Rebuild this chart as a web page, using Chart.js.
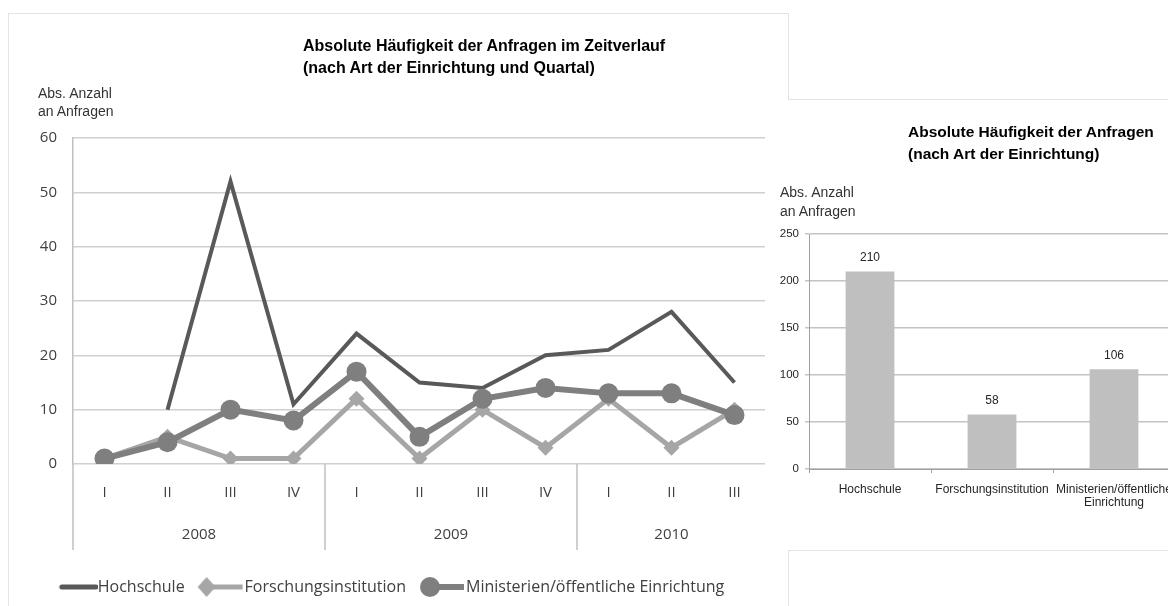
<!DOCTYPE html>
<html lang="de">
<head>
<meta charset="utf-8">
<title>Absolute Häufigkeit der Anfragen</title>
<script src="https://cdn.jsdelivr.net/npm/chart.js@4.4.1/dist/chart.umd.min.js"></script>
<style>
  html, body { margin: 0; padding: 0; background: #fff; }
  body { position: relative; width: 1168px; height: 606px; overflow: hidden; }
  .abs { position: absolute; }
  #rahmen1 { left: 8px; top: 13px; width: 781px; height: 620px; border: 1px solid #e3e3e3; box-sizing: border-box; }
  #panel { left: 765px; top: 100px; width: 403px; height: 450px; background: #fff; }
  #rahmen2 { left: 789px; top: 99px; width: 400px; height: 452px; border-top: 1px solid #e3e3e3; border-bottom: 1px solid #e3e3e3; box-sizing: border-box; }
  .titel { font-family: "Liberation Sans", Arial, sans-serif; font-weight: bold; color: #000; white-space: nowrap; }
  .achse { font-family: "Liberation Sans", Arial, sans-serif; font-size: 14px; line-height: 18px; color: #333; white-space: nowrap; }
</style>
</head>
<body>
<div id="rahmen1" class="abs"></div>
<canvas id="verlauf" class="abs" width="780" height="593" style="left:8px;top:13px"></canvas>
<div id="panel" class="abs"></div>
<div id="rahmen2" class="abs"></div>
<canvas id="gesamt" class="abs" width="420" height="450" style="left:765px;top:100px"></canvas>

<div class="abs titel" style="left:303px;top:35px;font-size:16px;line-height:22px">Absolute Häufigkeit der Anfragen im Zeitverlauf<br>(nach Art der Einrichtung und Quartal)</div>
<div class="abs achse" style="left:38px;top:84px">Abs. Anzahl<br>an Anfragen</div>

<div class="abs titel" style="left:908px;top:121px;font-size:15.5px;line-height:22px">Absolute Häufigkeit der Anfragen<br>(nach Art der Einrichtung)</div>
<div class="abs achse" style="left:780px;top:183px;line-height:19px">Abs. Anzahl<br>an Anfragen</div>

<script>
// Daten Zeitverlauf (Quartale)
const quartale = ['I', 'II', 'III', 'IV', 'I', 'II', 'III', 'IV', 'I', 'II', 'III'];
const jahre = ['2008', '2009', '2010'];
const quartaleProJahr = [4, 4, 3];
const hochschule = [null, 10, 52, 11, 24, 15, 14, 20, 21, 28, 15];
const forschung = [1, 5, 1, 1, 12, 1, 10, 3, 12, 3, 10];
const ministerien = [1, 4, 10, 8, 17, 5, 12, 14, 13, 13, 9];
const yTicksVerlauf = [0, 10, 20, 30, 40, 50, 60];

// Daten gesamt (nach Art der Einrichtung)
const einrichtungen = ['Hochschule', 'Forschungsinstitution', ['Ministerien/öffentliche', 'Einrichtung']];
const anfragenGesamt = [210, 58, 106];
const yTicksGesamt = [0, 50, 100, 150, 200, 250];

// Grenzen und Mitten der Jahre auf der Quartalsachse
const jahrGrenzen = [0];
quartaleProJahr.forEach(n => jahrGrenzen.push(jahrGrenzen[jahrGrenzen.length - 1] + n));
const jahrMitten = quartaleProJahr.map((n, i) => jahrGrenzen[i] + n / 2);

const schrift = '"Open Sans", sans-serif';

// kleine Bilder fuer die Legende (Linie mit Marker)
function legendenBild(farbe, dicke, marker) {
    const c = document.createElement('canvas');
    c.width = 56;
    c.height = 22;
    const g = c.getContext('2d');
    g.strokeStyle = farbe;
    g.fillStyle = farbe;
    g.lineWidth = dicke;
    g.beginPath();
    if (marker === 'raute') {
        g.moveTo(23, 11);
    } else if (marker === 'kreis') {
        g.moveTo(21, 11);
    } else {
        g.lineCap = 'round';
        g.moveTo(20, 11);
    }
    g.lineTo(54, 11);
    g.stroke();
    if (marker === 'raute') {
        g.beginPath();
        g.moveTo(18, 1); g.lineTo(27, 11); g.lineTo(18, 21); g.lineTo(9, 11);
        g.closePath();
        g.fill();
    } else if (marker === 'kreis') {
        g.beginPath();
        g.arc(20, 11, 10, 0, Math.PI * 2);
        g.fill();
    }
    return c;
}
const legendenBilder = [
    legendenBild('#595959', 5, null),
    legendenBild('#a6a6a6', 5, 'raute'),
    legendenBild('#7f7f7f', 6, 'kreis')
];

const trennlinien = {
    id: 'trennlinien',
    afterDraw(chart) {
        const jahr = chart.scales.jahr;
        const ctx = chart.ctx;
        ctx.save();
        ctx.strokeStyle = '#bfbfbf';
        ctx.lineWidth = 1.5;
        jahrGrenzen.forEach(v => {
            const x = jahr.getPixelForValue(v);
            ctx.beginPath();
            ctx.moveTo(x, chart.chartArea.bottom);
            ctx.lineTo(x, jahr.bottom - 17);
            ctx.stroke();
        });
        ctx.restore();
    }
};

new Chart(document.getElementById('verlauf').getContext('2d'), {
    type: 'line',
    data: {
        labels: quartale,
        datasets: [{
            label: 'Hochschule',
            data: hochschule,
            borderColor: '#595959',
            backgroundColor: '#595959',
            borderWidth: 4,
            pointRadius: 0,
            order: 2
        }, {
            label: 'Forschungsinstitution',
            data: forschung,
            borderColor: '#a6a6a6',
            backgroundColor: '#a6a6a6',
            borderWidth: 5,
            pointStyle: 'rectRot',
            pointRadius: 8,
            pointBorderWidth: 0,
            order: 1
        }, {
            label: 'Ministerien/öffentliche Einrichtung',
            data: ministerien,
            borderColor: '#7f7f7f',
            backgroundColor: '#7f7f7f',
            borderWidth: 6,
            pointStyle: 'circle',
            pointRadius: 10,
            pointBorderWidth: 0,
            order: 0
        }]
    },
    options: {
        responsive: false,
        animation: false,
        events: [],
        layout: { padding: { top: 125, left: 0, right: 22, bottom: 1 } },
        plugins: {
            tooltip: { enabled: false },
            legend: {
                position: 'bottom',
                labels: {
                    usePointStyle: true,
                    pointStyleWidth: 40,
                    padding: 12,
                    color: '#404040',
                    font: { family: schrift, size: 16 },
                    sort: (a, b) => a.datasetIndex - b.datasetIndex,
                    generateLabels(chart) {
                        const items = Chart.defaults.plugins.legend.labels.generateLabels(chart);
                        items.forEach(it => { it.pointStyle = legendenBilder[it.datasetIndex]; });
                        return items;
                    }
                }
            }
        },
        scales: {
            x: {
                weight: 0,
                offset: true,
                grid: { display: false },
                border: { display: false },
                ticks: { color: '#404040', font: { family: schrift, size: 15 }, padding: 12, maxRotation: 0, autoSkip: false },
                afterFit(s) { s.height = 45; }
            },
            jahr: {
                type: 'linear',
                position: 'bottom',
                weight: 1,
                min: 0,
                max: jahrGrenzen[jahrGrenzen.length - 1],
                grid: { display: false },
                border: { display: false },
                afterBuildTicks(s) { s.ticks = jahrMitten.map(v => ({ value: v })); },
                ticks: {
                    color: '#404040',
                    font: { family: schrift, size: 15 },
                    padding: 9,
                    maxRotation: 0,
                    autoSkip: false,
                    callback: (v, i) => jahre[i]
                },
                afterFit(s) { s.height = 58; }
            },
            y: {
                min: 0,
                max: 60,
                afterBuildTicks(s) { s.ticks = yTicksVerlauf.map(v => ({ value: v })); },
                grid: { color: '#d0d0d0', lineWidth: 1.5, drawTicks: false },
                border: { color: '#bfbfbf', width: 1.5 },
                ticks: { color: '#404040', font: { family: schrift, size: 15 }, padding: 16 },
                afterFit(s) { s.width = 65; }
            }
        }
    },
    plugins: [trennlinien]
});

const werteLabels = {
    id: 'werteLabels',
    afterDatasetsDraw(chart) {
        const ctx = chart.ctx;
        const meta = chart.getDatasetMeta(0);
        ctx.save();
        ctx.font = '12px "Liberation Sans", Arial, sans-serif';
        ctx.fillStyle = '#262626';
        ctx.textAlign = 'center';
        ctx.textBaseline = 'middle';
        meta.data.forEach((bar, i) => ctx.fillText(anfragenGesamt[i], bar.x, bar.y - 14));
        ctx.restore();
    }
};

new Chart(document.getElementById('gesamt').getContext('2d'), {
    type: 'bar',
    data: {
        labels: einrichtungen,
        datasets: [{
            label: 'Anfragen',
            data: anfragenGesamt,
            backgroundColor: '#bfbfbf',
            barPercentage: 0.4,
            categoryPercentage: 1
        }]
    },
    options: {
        responsive: false,
        animation: false,
        events: [],
        layout: { padding: { top: 134, left: 0, right: 10, bottom: 21 } },
        plugins: { legend: { display: false }, tooltip: { enabled: false } },
        scales: {
            x: {
                grid: { drawOnChartArea: false, offset: true, tickLength: 4, color: '#a0a0a0' },
                border: { color: '#a0a0a0' },
                ticks: { color: '#262626', font: { family: '"Liberation Sans", Arial, sans-serif', size: 12, lineHeight: 1.1 }, padding: 10, maxRotation: 0, autoSkip: false },
                afterFit(s) { s.height = 60; }
            },
            y: {
                min: 0,
                max: 250,
                afterBuildTicks(s) { s.ticks = yTicksGesamt.map(v => ({ value: v })); },
                grid: { color: '#c4c4c4', lineWidth: 1.5, tickLength: 4 },
                border: { color: '#a0a0a0' },
                ticks: { color: '#262626', font: { family: '"Liberation Sans", Arial, sans-serif', size: 11.5 }, padding: 6 },
                afterFit(s) { s.width = 44; }
            }
        }
    },
    plugins: [werteLabels]
});
</script>
</body>
</html>
